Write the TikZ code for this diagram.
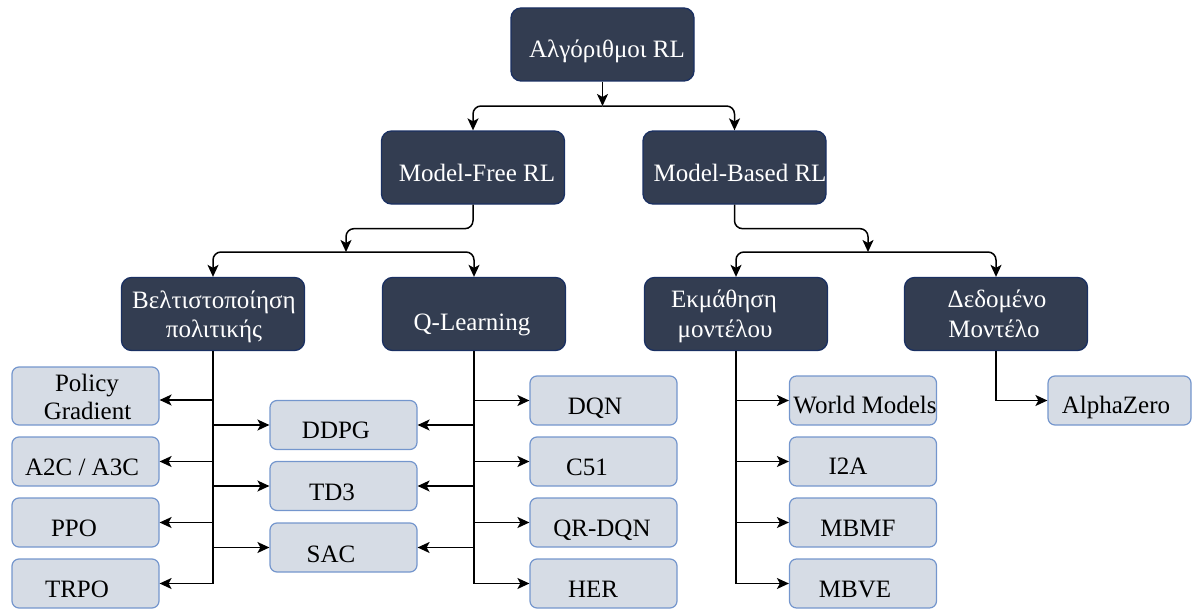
\documentclass[tikz,border=0pt]{standalone}
\usepackage{fontspec}
\setmainfont{Liberation Serif}
\usetikzlibrary{arrows.meta}
\definecolor{hubfill}{RGB}{51,61,81}
\definecolor{hubline}{RGB}{26,48,98}
\definecolor{leaffill}{RGB}{214,220,229}
\definecolor{leafline}{RGB}{116,150,205}
\begin{document}
\begin{tikzpicture}[x=1pt,y=-1pt,
  hub/.style={draw=hubline, fill=hubfill, line width=1.3pt, rounded corners=10pt,
    minimum width=183pt, minimum height=73pt, inner sep=0pt},
  leaf/.style={draw=leafline, fill=leaffill, line width=1.2pt, rounded corners=7pt,
    minimum width=147pt, minimum height=49pt, inner sep=0pt},
  hubtext/.style={anchor=base, text=white, inner sep=0pt, font=\fontsize{25}{29}\selectfont},
  leaftext/.style={anchor=base, text=black, inner sep=0pt, font=\fontsize{25}{29}\selectfont},
  conn/.style={draw=black, line width=1.5pt, -{Stealth[length=12pt,width=11pt,inset=3pt]}},
  elbow/.style={conn, rounded corners=8pt},
]
\useasboundingbox (0,0) rectangle (1192,610);

% ---- upper levels ----
\node[hub] (root) at (602.5,44.5) {};
\node[hubtext] (root-t) at (607,58) {Αλγόριθμοι RL};

\node[hub] (mf) at (473,167.5) {};
\node[hubtext] (mf-t) at (477,181) {Model-Free RL};
\node[hub] (mb) at (734.5,167.5) {};
\node[hubtext] (mb-t) at (740,181) {Model-Based RL};

\node[hub] (bel) at (213,314) {};
\node[hubtext] (bel-t1) at (214,308) {Βελτιστοποίηση};
\node[hubtext] (bel-t2) at (214,337) {πολιτικής};
\node[hub] (ql) at (474,314) {};
\node[hubtext] (ql-t) at (472,330) {Q-Learning};
\node[hub] (emk) at (736,314) {};
\node[hubtext] (emk-t1) at (724,307) {Εκμάθηση};
\node[hubtext] (emk-t2) at (725,337) {μοντέλου};
\node[hub] (ded) at (996,314) {};
\node[hubtext] (ded-t1) at (997,307) {Δεδομένο};
\node[hubtext] (ded-t2) at (994,337) {Μοντέλο};

% ---- policy optimisation leaves ----
\node[leaf, minimum height=58pt] (pg) at (85.5,396) {};
\node[leaftext] (pg-t1) at (87,391) {Policy};
\node[leaftext] (pg-t2) at (87.5,419) {Gradient};
\node[leaf] (a2c) at (85.5,461.5) {};
\node[leaftext] (a2c-t) at (82,475) {A2C / A3C};
\node[leaf] (ppo) at (85.5,522.5) {};
\node[leaftext] (ppo-t) at (74,536) {PPO};
\node[leaf] (trpo) at (85.5,583.5) {};
\node[leaftext] (trpo-t) at (77,597) {TRPO};

% ---- shared leaves ----
\node[leaf] (ddpg) at (343.5,425) {};
\node[leaftext] (ddpg-t) at (336,438) {DDPG};
\node[leaf] (td3) at (343.5,486) {};
\node[leaftext] (td3-t) at (332,500) {TD3};
\node[leaf] (sac) at (343.5,547.5) {};
\node[leaftext] (sac-t) at (331,562) {SAC};

% ---- Q-learning leaves ----
\node[leaf] (dqn) at (603.5,400.5) {};
\node[leaftext] (dqn-t) at (595,414) {DQN};
\node[leaf] (c51) at (603.5,461.5) {};
\node[leaftext] (c51-t) at (587,475) {C51};
\node[leaf] (qr) at (603.5,522.5) {};
\node[leaftext] (qr-t) at (602,536) {QR-DQN};
\node[leaf] (her) at (603.5,583.5) {};
\node[leaftext] (her-t) at (593,597) {HER};

% ---- learned-model leaves ----
\node[leaf] (wm) at (863,400.5) {};
\node[leaftext] (wm-t) at (865,413) {World Models};
\node[leaf] (i2a) at (863,461.5) {};
\node[leaftext] (i2a-t) at (848,474) {I2A};
\node[leaf] (mbmf) at (863,522.5) {};
\node[leaftext] (mbmf-t) at (858,536) {MBMF};
\node[leaf] (mbve) at (863,583.5) {};
\node[leaftext] (mbve-t) at (855,597) {MBVE};

% ---- given-model leaf ----
\node[leaf, minimum width=143pt] (az) at (1119.5,400.5) {};
\node[leaftext] (az-t) at (1116,413) {AlphaZero};

% ---- junction points ----
\coordinate (j1) at (602.5,106);
\coordinate (j2l) at (346,252);
\coordinate (j2r) at (868,252);

% ---- connectors between levels ----
\draw[conn] (root.south) -- (j1);
\draw[elbow] (j1) -| (mf.north);
\draw[elbow] (j1) -| (mb.north);

\draw[elbow] (mf.south) -- ++(0,24) -| (j2l);
\draw[elbow] (j2l) -| (bel.north);
\draw[elbow] (j2l) -| (ql.north);

\draw[elbow] (mb.south) -- ++(0,24) -| (j2r);
\draw[elbow] (j2r) -| (emk.north);
\draw[elbow] (j2r) -| (ded.north);

% ---- connectors to leaves ----
\draw[conn] (bel.south) |- ([yshift=-4pt]pg.east);
\draw[conn] (bel.south) |- (a2c.east);
\draw[conn] (bel.south) |- (ppo.east);
\draw[conn] (bel.south) |- (trpo.east);
\draw[conn] (bel.south) |- (ddpg.west);
\draw[conn] (bel.south) |- (td3.west);
\draw[conn] (bel.south) |- (sac.west);

\draw[conn] (ql.south) |- (ddpg.east);
\draw[conn] (ql.south) |- (td3.east);
\draw[conn] (ql.south) |- (sac.east);
\draw[conn] (ql.south) |- (dqn.west);
\draw[conn] (ql.south) |- (c51.west);
\draw[conn] (ql.south) |- (qr.west);
\draw[conn] (ql.south) |- (her.west);

\draw[conn] (emk.south) |- (wm.west);
\draw[conn] (emk.south) |- (i2a.west);
\draw[conn] (emk.south) |- (mbmf.west);
\draw[conn] (emk.south) |- (mbve.west);

\draw[conn] (ded.south) |- (az.west);
\end{tikzpicture}
\end{document}
